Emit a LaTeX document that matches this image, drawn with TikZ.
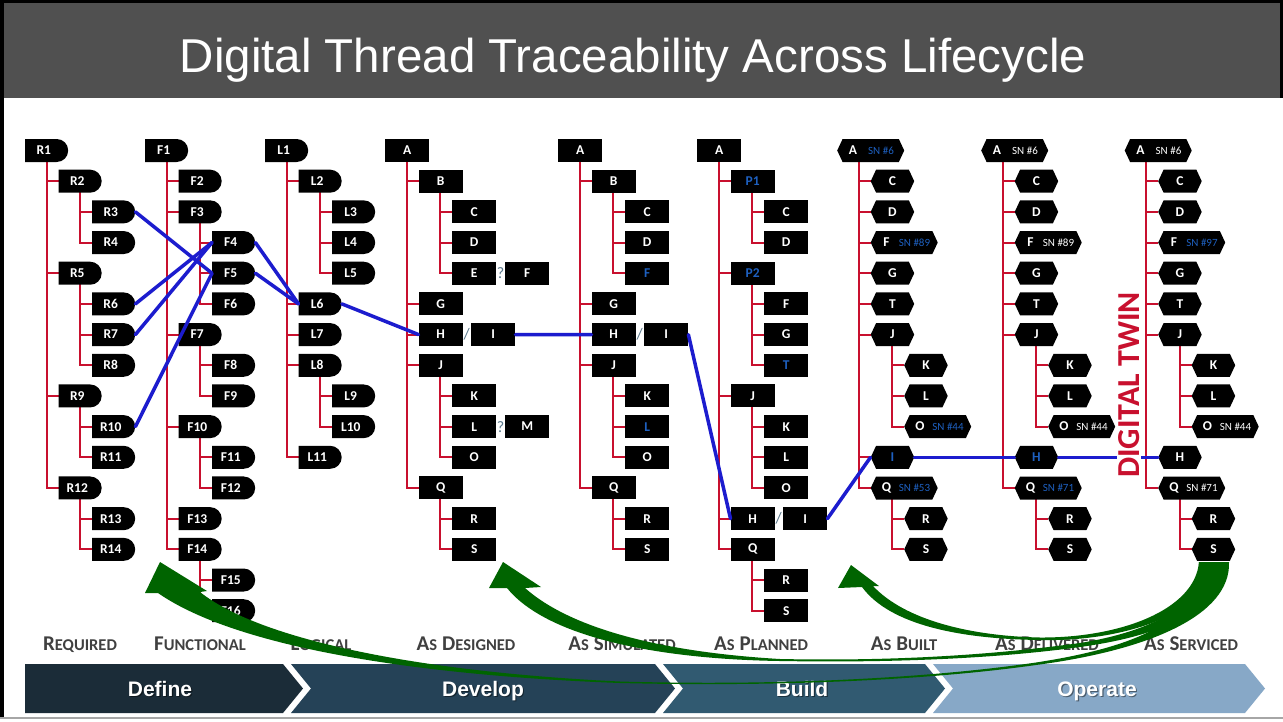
\documentclass[tikz,border=0pt]{standalone}
\usepackage{fontspec}
\newfontfamily\carlito{Carlito}
\newfontfamily\arialf{Liberation Sans}
\usetikzlibrary{shapes.misc,shapes.symbols,calc}
\definecolor{crimson}{RGB}{200,16,46}
\definecolor{threadblue}{RGB}{28,28,206}
\definecolor{snblue}{RGB}{30,96,192}
\definecolor{swoosh}{RGB}{0,100,0}
\definecolor{hdrgray}{RGB}{80,80,80}
\definecolor{lblgray}{RGB}{64,64,64}
\definecolor{markgray}{RGB}{90,120,140}
\definecolor{chevA}{RGB}{27,44,56}
\definecolor{chevB}{RGB}{37,66,87}
\definecolor{chevC}{RGB}{49,90,113}
\definecolor{chevD}{RGB}{135,168,199}
\pgfdeclarelayer{paper}
\pgfdeclarelayer{lines}
\pgfsetlayers{paper,lines,main}
% small-caps word: large initial, smaller capitals after it
\newcommand\scword[2]{{\fontsize{21}{21}\selectfont #1}{\fontsize{16.5}{16.5}\selectfont #2}}
\newcommand\scgap{\hspace{5pt}}
% hexagon carrying a letter and a serial number
\newcommand\snhex[7]{%
  \node[whbox] (#1) at (#2,#3) {};
  \node[lettxt, text=#5] (#1-l) at ($(#1.west)+(16,0)$) {#4};
  \node[sntxt, text=#7] (#1-s) at ($(#1.west)+(44,0)$) {#6};
}
\tikzset{
  box/.style={fill=black, text=white, inner sep=0pt, minimum height=23pt, anchor=west,
    font=\carlito\bfseries\fontsize{13.5}{14}\selectfont},
  rbox/.style={box, rectangle, minimum width=44pt},
  dbox/.style={box, rounded rectangle, rounded rectangle west arc=none, minimum width=43pt},
  hbox/.style={box, signal, signal to=east and west, signal pointer angle=130, minimum width=43.5pt},
  whbox/.style={hbox, minimum width=67pt},
  lettxt/.style={inner sep=0pt, font=\carlito\bfseries\fontsize{13.5}{14}\selectfont},
  sntxt/.style={inner sep=0pt, font=\carlito\fontsize{11}{12}\selectfont},
  qmark/.style={inner sep=0pt, text=markgray, font=\carlito\fontsize{16}{16}\selectfont},
  tree/.style={draw=crimson, line width=2pt},
  thread/.style={draw=threadblue, line width=3.5pt, line cap=round},
  stage/.style={anchor=base, text=lblgray, font=\carlito\bfseries, inner sep=0pt},
  phase/.style={anchor=base, text=white, font=\arialf\bfseries\fontsize{21}{21}\selectfont, inner sep=0pt},
  phaseshadow/.style={phase, text=black, opacity=0.45},
}
\begin{document}
\begin{tikzpicture}[x=1pt,y=-1pt]
\useasboundingbox (0,0) rectangle (1283,721);
\begin{pgfonlayer}{paper}
\fill[white] (0,0) rectangle (1283,721);
\end{pgfonlayer}

% header bar and frame
\fill[hdrgray] (0,0) rectangle (1283,98);
\draw[black, line width=3pt] (0,1.5) -- (1281.5,1.5) -- (1281.5,98);
\draw[black, line width=3.5pt] (1.75,0) -- (1.75,718);
\draw[black!35, line width=2pt] (0,718) -- (1283,718);
\node[anchor=base, text=white, inner sep=0pt, font=\arialf\fontsize{47.5}{50}\selectfont] (title) at (633,72) {Digital Thread Traceability Across Lifecycle};

% ---------- Required ----------
\foreach \n/\lv/\r in {R1/0/0,R2/1/1,R3/2/2,R4/2/3,R5/1/4,R6/2/5,R7/2/6,R8/2/7,R9/1/8,R10/2/9,R11/2/10,R12/1/11,R13/2/12,R14/2/13}
  \node[dbox] (\n) at ({25+33.5*\lv},{150.5+30.68*\r}) {\n\hspace*{5pt}};
% ---------- Functional ----------
\foreach \n/\lv/\r in {F1/0/0,F2/1/1,F3/1/2,F4/2/3,F5/2/4,F6/2/5,F7/1/6,F8/2/7,F9/2/8,F10/1/9,F11/2/10,F12/2/11,F13/1/12,F14/1/13,F15/2/14,F16/2/15}
  \node[dbox] (\n) at ({145+33.5*\lv},{150.5+30.68*\r}) {\n\hspace*{5pt}};
% ---------- Logical ----------
\foreach \n/\lv/\r in {L1/0/0,L2/1/1,L3/2/2,L4/2/3,L5/2/4,L6/1/5,L7/1/6,L8/1/7,L9/2/8,L10/2/9,L11/1/10}
  \node[dbox] (\n) at ({265+33.5*\lv},{150.5+30.68*\r}) {\n\hspace*{5pt}};

% ---------- As Designed ----------
\foreach \n/\lv/\r in {A/0/0,B/1/1,C/2/2,D/2/3,E/2/4,G/1/5,H/1/6,J/1/7,K/2/8,L/2/9,O/2/10,Q/1/11,R/2/12,S/2/13}
  \node[rbox] (d\n) at ({385+33.5*\lv},{150.5+30.68*\r}) {\n};
\node[rbox] (dF) at (505,273.2) {F};
\node[rbox] (dI) at (471,334.6) {I};
\node[rbox] (dM) at (505,426.6) {M};
\node[qmark] (dq1) at (500.5,273.2) {?};
\node[qmark] (dq2) at (500.5,426.6) {?};
\node[qmark] (dsl) at (466.8,334.6) {/};

% ---------- As Simulated ----------
\foreach \n/\lv/\r/\c in {A/0/0/white,B/1/1/white,C/2/2/white,D/2/3/white,F/2/4/snblue,G/1/5/white,H/1/6/white,J/1/7/white,K/2/8/white,L/2/9/snblue,O/2/10/white,Q/1/11/white,R/2/12/white,S/2/13/white}
  \node[rbox, text=\c] (s\n) at ({558+33.5*\lv},{150.5+30.68*\r}) {\n};
\node[rbox] (sI) at (644,334.6) {I};
\node[qmark] (ssl) at (639.8,334.6) {/};

% ---------- As Planned ----------
\foreach \n/\lv/\r/\c in {A/0/0/white,P1/1/1/snblue,C/2/2/white,D/2/3/white,P2/1/4/snblue,F/2/5/white,G/2/6/white,T/2/7/snblue,J/1/8/white,K/2/9/white,L/2/10/white,O/2/11/white,H/1/12/white,Q/1/13/white,R/2/14/white,S/2/15/white}
  \node[rbox, text=\c] (p\n) at ({697+33.5*\lv},{150.5+30.68*\r}) {\n};
\node[rbox] (pI) at (783,518.7) {I};
\node[qmark] (psl) at (778.8,518.7) {/};

% ---------- As Built ----------
\foreach \n/\lv/\r/\c in {C/1/1/white,D/1/2/white,G/1/4/white,T/1/5/white,J/1/6/white,K/2/7/white,L/2/8/white,I/1/10/snblue,R/2/12/white,S/2/13/white}
  \node[hbox, text=\c] (b\n) at ({837+33.5*\lv},{150.5+30.68*\r}) {\n};
\snhex{bA}{837}{150.5}{A}{white}{SN \#6}{snblue}
\snhex{bF}{870.5}{242.5}{F}{white}{SN \#89}{snblue}
\snhex{bO}{904}{426.6}{O}{white}{SN \#44}{snblue}
\snhex{bQ}{870.5}{488.0}{Q}{white}{SN \#53}{snblue}

% ---------- As Delivered ----------
\foreach \n/\lv/\r/\c in {C/1/1/white,D/1/2/white,G/1/4/white,T/1/5/white,J/1/6/white,K/2/7/white,L/2/8/white,H/1/10/snblue,R/2/12/white,S/2/13/white}
  \node[hbox, text=\c] (v\n) at ({981+33.5*\lv},{150.5+30.68*\r}) {\n};
\snhex{vA}{981}{150.5}{A}{white}{SN \#6}{white}
\snhex{vF}{1014.5}{242.5}{F}{white}{SN \#89}{white}
\snhex{vO}{1048}{426.6}{O}{white}{SN \#44}{white}
\snhex{vQ}{1014.5}{488.0}{Q}{white}{SN \#71}{snblue}

% ---------- As Serviced ----------
\foreach \n/\lv/\r/\c in {C/1/1/white,D/1/2/white,G/1/4/white,T/1/5/white,J/1/6/white,K/2/7/white,L/2/8/white,H/1/10/white,R/2/12/white,S/2/13/white}
  \node[hbox, text=\c] (t\n) at ({1124.5+33.5*\lv},{150.5+30.68*\r}) {\n};
\snhex{tA}{1124.5}{150.5}{A}{white}{SN \#6}{white}
\snhex{tF}{1158}{242.5}{F}{white}{SN \#97}{snblue}
\snhex{tO}{1191.5}{426.6}{O}{white}{SN \#44}{white}
\snhex{tQ}{1158}{488.0}{Q}{white}{SN \#71}{white}

% ---------- hierarchy lines ----------
\begin{pgfonlayer}{lines}
\foreach \p/\c in {R1/R2,R1/R5,R1/R9,R1/R12,R2/R3,R2/R4,R5/R6,R5/R7,R5/R8,R9/R10,R9/R11,R12/R13,R12/R14,
                   F1/F2,F1/F3,F1/F7,F1/F10,F1/F13,F1/F14,F3/F4,F3/F5,F3/F6,F7/F8,F7/F9,F10/F11,F10/F12,F14/F15,F14/F16,
                   L1/L2,L1/L6,L1/L7,L1/L8,L1/L11,L2/L3,L2/L4,L2/L5,L8/L9,L8/L10,
                   dA/dB,dA/dG,dA/dH,dA/dJ,dA/dQ,dB/dC,dB/dD,dB/dE,dJ/dK,dJ/dL,dJ/dO,dQ/dR,dQ/dS,
                   sA/sB,sA/sG,sA/sH,sA/sJ,sA/sQ,sB/sC,sB/sD,sB/sF,sJ/sK,sJ/sL,sJ/sO,sQ/sR,sQ/sS,
                   pA/pP1,pA/pP2,pA/pJ,pA/pH,pA/pQ,pP1/pC,pP1/pD,pP2/pF,pP2/pG,pP2/pT,pJ/pK,pJ/pL,pJ/pO,pQ/pR,pQ/pS,
                   bA/bC,bA/bD,bA/bF,bA/bG,bA/bT,bA/bJ,bA/bI,bA/bQ,bJ/bK,bJ/bL,bJ/bO,bQ/bR,bQ/bS,
                   vA/vC,vA/vD,vA/vF,vA/vG,vA/vT,vA/vJ,vA/vH,vA/vQ,vJ/vK,vJ/vL,vJ/vO,vQ/vR,vQ/vS,
                   tA/tC,tA/tD,tA/tF,tA/tG,tA/tT,tA/tJ,tA/tH,tA/tQ,tJ/tK,tJ/tL,tJ/tO,tQ/tR,tQ/tS}
  \draw[tree] ($(\p.west)+(21.75,0)$) |- (\c.west);
\end{pgfonlayer}

% ---------- digital thread ----------
\foreach \a/\b in {R3/F5,R6/F4,R7/F4,R10/F5,F4/L6,F5/L6,L6/dH,dI/sH,sI/pH,pI/bI,bI/vH,vH/tH}
  \draw[thread] (\a.east) -- (\b.west);
\node[rotate=90, fill=white, inner sep=1.5pt, text=crimson, font=\carlito\bfseries\fontsize{32}{32}\selectfont] (twin) at (1129,385) {DIGITAL TWIN};

% ---------- lifecycle stage labels ----------
\node[stage] (sReq) at (80,650) {\scword{R}{EQUIRED}};
\node[stage] (sFun) at (200,650) {\scword{F}{UNCTIONAL}};
\node[stage] (sLog) at (321,650) {\scword{L}{OGICAL}};
\node[stage] (sDes) at (466,650) {\scword{A}{S}\scgap\scword{D}{ESIGNED}};
\node[stage] (sSim) at (622,650) {\scword{A}{S}\scgap\scword{S}{IMULATED}};
\node[stage] (sPla) at (761,650) {\scword{A}{S}\scgap\scword{P}{LANNED}};
\node[stage] (sBui) at (904,650) {\scword{A}{S}\scgap\scword{B}{UILT}};
\node[stage] (sDel) at (1047,650) {\scword{A}{S}\scgap\scword{D}{ELIVERED}};
\node[stage] (sSer) at (1191,650) {\scword{A}{S}\scgap\scword{S}{ERVICED}};

% ---------- phase chevrons ----------
\fill[chevA] (25,664) -- (283,664) -- (303,688.5) -- (283,713) -- (25,713) -- cycle;
\fill[chevB] (291,664) -- (655,664) -- (675,688.5) -- (655,713) -- (291,713) -- (311,688.5) -- cycle;
\fill[chevC] (663,664) -- (925,664) -- (945,688.5) -- (925,713) -- (663,713) -- (683,688.5) -- cycle;
\fill[chevD] (933,664) -- (1245,664) -- (1265,688.5) -- (1245,713) -- (933,713) -- (953,688.5) -- cycle;
\node[phaseshadow] (phAs) at (161.2,697.2) {Define};
\node[phaseshadow] (phBs) at (484.2,697.2) {Develop};
\node[phaseshadow] (phCs) at (803.2,697.2) {Build};
\node[phaseshadow] (phDs) at (1098.2,697.2) {Operate};
\node[phase] (phA) at (160,696) {Define};
\node[phase] (phB) at (483,696) {Develop};
\node[phase] (phC) at (802,696) {Build};
\node[phase] (phD) at (1097,696) {Operate};

% ---------- feedback swooshes from the serviced unit ----------
% to Required
\fill[swoosh] (1199,562) -- (1229,562) .. controls (1231,615) and (1150,650) .. (1036,665)
  .. controls (930,680) and (780,687) .. (620,683) .. controls (430,676) and (240,650) .. (158,593)
  -- (145,593) -- (160,562) -- (207,591) -- (200,592)
  .. controls (260,640) and (420,672) .. (620,681.5) .. controls (780,686) and (930,678) .. (1036,662.5)
  .. controls (1150,645) and (1199,615) .. (1199,562) -- cycle;
% to As Designed
\fill[swoosh] (1205,562) -- (1220,562) .. controls (1218,612) and (1160,636) .. (1080,647)
  .. controls (1000,658) and (900,663) .. (780,661) .. controls (650,659) and (545,635) .. (507,588)
  -- (489,588) -- (503,562) -- (541,587) -- (525,588)
  .. controls (570,628) and (660,652) .. (780,659) .. controls (900,661.5) and (1000,654) .. (1080,643)
  .. controls (1160,630) and (1205,600) .. (1205,562) -- cycle;
% to As Built
\fill[swoosh] (1199,562) -- (1213,562) .. controls (1210,615) and (1120,642) .. (1040,640)
  .. controls (960,639) and (890,625) .. (862,587)
  -- (838,588) -- (851,565) -- (879,586) -- (873,586)
  .. controls (905,620) and (970,636) .. (1040,637.5) .. controls (1120,638) and (1195,610) .. (1199,562) -- cycle;
\end{tikzpicture}
\end{document}
